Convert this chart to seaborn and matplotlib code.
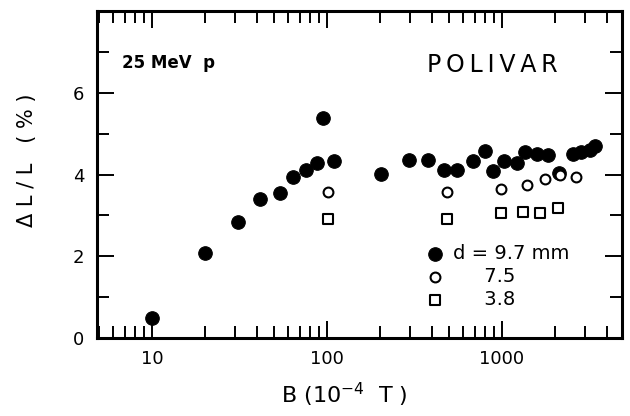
import numpy as np
import pandas as pd
import seaborn as sns
import matplotlib
matplotlib.use("Agg")
import matplotlib.pyplot as plt
from matplotlib.ticker import FixedLocator, NullFormatter, LogLocator

# # # Values # # #

b_97 = [10, 20, 31, 41.6, 53.8, 64, 76, 87.3, 95.3, 110, 204, 295, 379, 468,
        555, 680, 800, 892, 1026, 1222, 1352, 1578, 1840, 2124, 2535, 2853,
        3184, 3400]
dl_97 = [0.48, 2.08, 2.84, 3.39, 3.54, 3.93, 4.10, 4.27, 5.38, 4.34, 4.02,
         4.36, 4.36, 4.10, 4.11, 4.33, 4.58, 4.09, 4.32, 4.28, 4.54, 4.50,
         4.47, 4.03, 4.50, 4.54, 4.59, 4.70]

b_75 = [101, 483, 986, 1384, 1762, 2145, 2648]
dl_75 = [3.58, 3.58, 3.64, 3.74, 3.88, 4.00, 3.94]

b_38 = [101, 483, 995, 1325, 1663, 2099]
dl_38 = [2.92, 2.90, 3.06, 3.08, 3.05, 3.19]

labels = ['d = 9.7 mm', '     7.5', '     3.8']

df97 = pd.DataFrame({'B': b_97, 'dL': dl_97})
df75 = pd.DataFrame({'B': b_75, 'dL': dl_75})
df38 = pd.DataFrame({'B': b_38, 'dL': dl_38})

sns.set_style('ticks', rc={'text.color': 'black', 'axes.labelcolor': 'black',
                           'xtick.color': 'black', 'ytick.color': 'black',
                           'axes.edgecolor': 'black'})
plt.rcParams['font.family'] = ['DejaVu Sans']

fig = plt.figure(figsize=(6.3, 4.16), dpi=100)
ax = fig.add_axes([0.154, 0.1875, 0.833, 0.786])

sns.scatterplot(data=df97, x='B', y='dL', ax=ax, marker='o', s=95,
                color='black', edgecolor='black', label=labels[0])
sns.scatterplot(data=df75, x='B', y='dL', ax=ax, marker='o', s=50,
                facecolor='white', edgecolor='black', linewidth=1.5,
                label=labels[1])
sns.scatterplot(data=df38, x='B', y='dL', ax=ax, marker='s', s=50,
                facecolor='white', edgecolor='black', linewidth=1.5,
                label=labels[2])

ax.set_xscale('log')
ax.set_xlim(4.85, 4850)
ax.set_ylim(0, 8.0)
ax.set_xticks([10, 100, 1000])
ax.set_xticklabels(['10', '100', '1000'])
ax.xaxis.set_minor_locator(LogLocator(base=10, subs=np.arange(2, 10)))
ax.xaxis.set_minor_formatter(NullFormatter())
ax.yaxis.set_major_locator(FixedLocator([0, 2, 4, 6]))
ax.yaxis.set_minor_locator(FixedLocator([1, 3, 5, 7]))

for sp in ax.spines.values():
    sp.set_linewidth(2.2)
ax.tick_params(which='both', direction='in', top=True, right=True,
               width=1.4, labelsize=13)
ax.tick_params(which='major', length=12.5, pad=9)
ax.tick_params(which='minor', length=8.5)

ax.set_xlabel('B (10$^{-4}$  T )', fontsize=16)
ax.set_ylabel('Δ L / L   ( % )', fontsize=15)
ax.xaxis.set_label_coords(0.472, -0.13)
ax.yaxis.set_label_coords(-0.114, 0.544)

ax.text(0.048, 0.84, '25 MeV  p', transform=ax.transAxes, fontsize=12,
        fontweight='bold', va='center', ha='left')
ax.text(0.754, 0.835, 'P\u2009O\u2009L\u2009I\u2009V\u2009A\u2009R',
        transform=ax.transAxes, fontsize=17, va='center', ha='center')

ax.legend(loc='upper left', bbox_to_anchor=(0.611, 0.31), frameon=False,
          fontsize=14, handletextpad=0.4, labelspacing=0.2,
          borderaxespad=0, handlelength=1.0)

fig.savefig('out.png', dpi=100)
